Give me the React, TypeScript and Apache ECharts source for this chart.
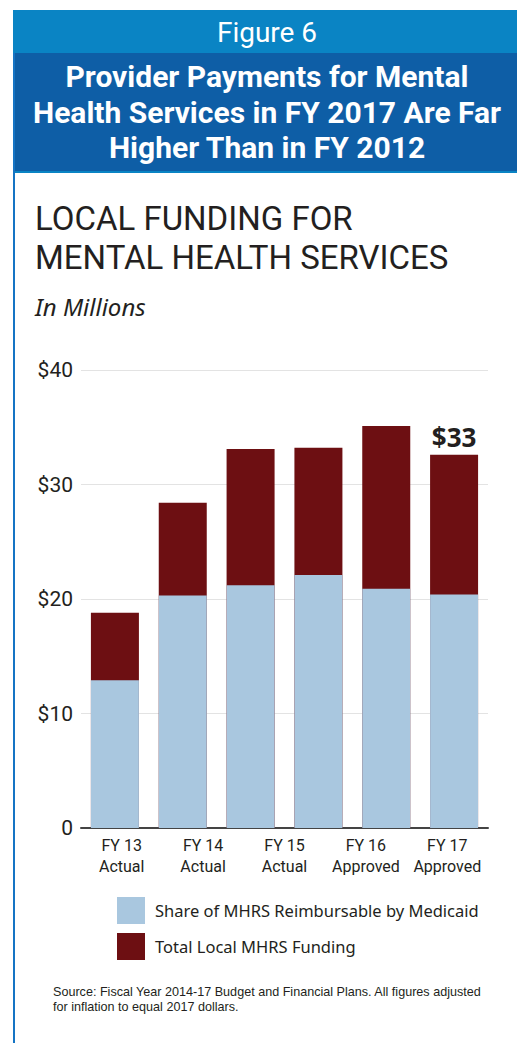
import React, { useEffect, useRef } from "react";
import * as echarts from "echarts";

const barCategories = ["FY13", "FY14", "FY15", "FY15b", "FY16", "FY17"];
const totalFunding = [18.8, 28.4, 33.1, 33.2, 35.1, 32.6];
const medicaidShare = [12.9, 20.3, 21.2, 22.1, 20.9, 20.4];
const axisLabels = ["FY 13\nActual", "FY 14\nActual", "FY 15\nActual", "FY 16\nApproved", "FY 17\nApproved"];
const yTicks = [0, 10, 20, 30, 40];
const seriesNames = ["Share of MHRS Reimbursable by Medicaid", "Total Local MHRS Funding"];
const headerTitle = "Figure 6";
const headerLines = ["Provider Payments for Mental", "Health Services in FY 2017 Are Far", "Higher Than in FY 2012"];
const chartTitleLines = ["LOCAL FUNDING FOR", "MENTAL HEALTH SERVICES"];
const unitNote = "In Millions";
const sourceNote = "Source: Fiscal Year 2014-17 Budget and Financial Plans. All figures adjusted\nfor inflation to equal 2017 dollars.";
const highlightLabel = "$33";

const LIGHT_BLUE = "#0a84c4";
const DARK_BLUE = "#0e5ea6";
const BAR_BLUE = "#a9c7df";
const BAR_RED = "#6d0f12";
const INK = "#231f20";
const COND = "'Liberation Sans Narrow', 'Roboto', sans-serif";
const MYRIAD = "'Noto Sans', 'Open Sans', sans-serif";

export default function App() {
  const ref = useRef<HTMLDivElement>(null);
  useEffect(() => {
    if (!ref.current) return;
    const chart = echarts.init(ref.current, null, { renderer: "svg" });
    const grid = { left: 81, right: 29, top: 370, bottom: 215 };
    chart.setOption({
      animation: false,
      backgroundColor: "#ffffff",
      grid: [grid, { ...grid }],
      legend: {
        data: seriesNames,
        orient: "vertical",
        left: 117,
        top: 897,
        padding: 0,
        itemWidth: 28,
        itemHeight: 27,
        itemGap: 9,
        icon: "rect",
        textStyle: { fontFamily: MYRIAD, fontSize: 16.5, color: INK, padding: [0, 0, 0, 5] },
      },
      xAxis: [
        {
          type: "category",
          gridIndex: 0,
          data: barCategories,
          axisLine: { show: true, lineStyle: { color: "#444", width: 2 } },
          axisTick: { show: false },
          axisLabel: { show: false },
        },
        {
          type: "category",
          gridIndex: 1,
          data: axisLabels,
          position: "bottom",
          axisLine: { show: false },
          axisTick: { show: false },
          axisLabel: {
            show: true,
            interval: 0,
            margin: 7,
            fontFamily: COND,
            fontSize: 16,
            lineHeight: 21,
            color: INK,
          },
        },
      ],
      yAxis: [
        {
          type: "value",
          gridIndex: 0,
          min: yTicks[0],
          max: yTicks[yTicks.length - 1],
          interval: 10,
          axisLine: { show: false },
          axisTick: { show: false },
          splitLine: { lineStyle: { color: "#e3e3e3", width: 1 } },
          axisLabel: {
            margin: 8,
            fontFamily: COND,
            fontSize: 21,
            color: INK,
            formatter: (v: number) => (v === 0 ? "0" : "$" + v),
          },
        },
        { type: "value", gridIndex: 1, show: false, min: 0, max: 40 },
      ],
      series: [
        {
          name: seriesNames[1],
          type: "bar",
          xAxisIndex: 0,
          yAxisIndex: 0,
          barWidth: 48,
          barGap: "-100%",
          z: 2,
          itemStyle: { color: BAR_RED },
          data: totalFunding.map((v, i) =>
            i === totalFunding.length - 1
              ? {
                  value: v,
                  label: {
                    show: true,
                    position: "top",
                    distance: 5,
                    formatter: highlightLabel,
                    fontFamily: MYRIAD,
                    fontWeight: "bold",
                    fontSize: 26,
                    color: INK,
                  },
                }
              : v
          ),
        },
        {
          name: seriesNames[0],
          type: "bar",
          xAxisIndex: 0,
          yAxisIndex: 0,
          barWidth: 48,
          barGap: "-100%",
          z: 3,
          itemStyle: { color: BAR_BLUE },
          data: medicaidShare,
        },
      ],
      graphic: [
        { type: "rect", shape: { x: 13, y: 10, width: 504, height: 43 }, style: { fill: LIGHT_BLUE } },
        { type: "rect", shape: { x: 15, y: 53, width: 502, height: 118 }, style: { fill: DARK_BLUE } },
        { type: "rect", shape: { x: 13, y: 171, width: 504, height: 2 }, style: { fill: LIGHT_BLUE } },
        { type: "rect", shape: { x: 13, y: 53, width: 2, height: 990 }, style: { fill: "#1574c4" } },
        {
          type: "text",
          x: 267,
          y: 46,
          style: { text: headerTitle, fill: "#fff", font: "400 28px Roboto, sans-serif", textAlign: "center", textVerticalAlign: "bottom" },
        },
        {
          type: "text",
          x: 267,
          y: 59,
          style: {
            text: headerLines.join("\n"),
            fill: "#fff",
            font: "700 30px Roboto, sans-serif",
            lineHeight: 35.5,
            textAlign: "center",
            textVerticalAlign: "top",
          },
        },
        ...chartTitleLines.map((t, i) => ({
          type: "text",
          x: 35,
          y: 202 + i * 39,
          style: { text: t, fill: INK, font: "400 33px Roboto, sans-serif", textAlign: "left", textVerticalAlign: "top" },
        })),
        {
          type: "text",
          x: 35,
          y: 318,
          style: { text: unitNote, fill: INK, font: "italic 400 24px 'Noto Sans', sans-serif", textAlign: "left", textVerticalAlign: "bottom" },
        },
        {
          type: "text",
          x: 53,
          y: 985,
          style: { text: sourceNote, fill: INK, font: "400 12.6px 'Liberation Sans', Arial, sans-serif", lineHeight: 14.5, textAlign: "left", textVerticalAlign: "top" },
        },
      ],
    });
    return () => chart.dispose();
  }, []);
  return <div ref={ref} style={{ position: "fixed", left: 0, top: 0, width: 517, height: 1043 }} />;
}
